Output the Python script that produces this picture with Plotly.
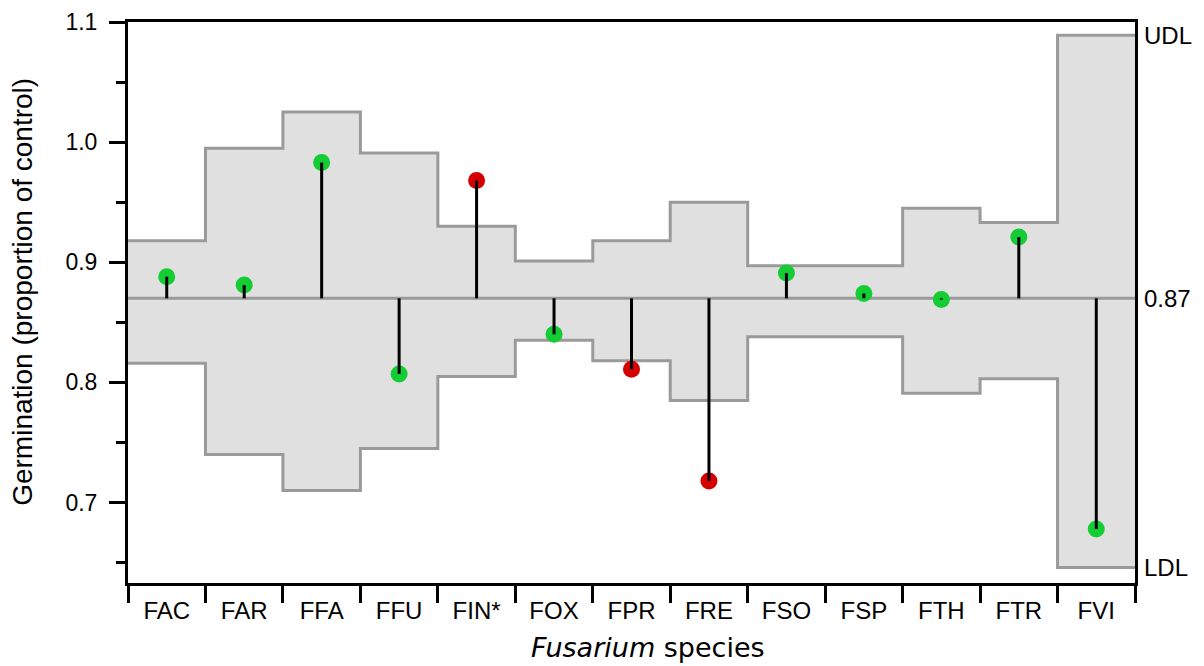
import plotly.graph_objects as go

species = ["FAC", "FAR", "FFA", "FFU", "FIN*", "FOX", "FPR", "FRE", "FSO", "FSP", "FTH", "FTR", "FVI"]
germination = [0.888, 0.881, 0.983, 0.807, 0.968, 0.840, 0.811, 0.718, 0.891, 0.874, 0.869, 0.921, 0.678]
significant = [False, False, False, False, True, False, True, True, False, False, False, False, False]
upper_limit = [0.918, 0.995, 1.025, 0.991, 0.930, 0.901, 0.918, 0.950, 0.897, 0.897, 0.945, 0.933, 1.089]
lower_limit = [0.816, 0.740, 0.710, 0.745, 0.805, 0.835, 0.818, 0.785, 0.838, 0.838, 0.791, 0.803, 0.646]
control_mean = 0.87

n = len(species)
boundaries = list(range(n + 1))
centers = [i + 0.5 for i in range(n)]

def step(vals):
    xs, ys = [], []
    for i, v in enumerate(vals):
        xs += [i, i + 1]
        ys += [v, v]
    return xs, ys

GREY = "#9a9a9a"
FILL = "#e0e0e0"
GREEN = "#14cc33"
RED = "#d40000"
FONT = "Liberation Sans, Arial, sans-serif"

fig = go.Figure()
lx, ly = step(lower_limit)
ux, uy = step(upper_limit)
fig.add_trace(go.Scatter(x=lx, y=ly, mode="lines", line=dict(color=GREY, width=3), showlegend=False, hoverinfo="skip"))
fig.add_trace(go.Scatter(x=ux, y=uy, mode="lines", line=dict(color=GREY, width=3), fill="tonexty", fillcolor=FILL, showlegend=False, hoverinfo="skip"))
fig.add_trace(go.Scatter(x=[0, n], y=[control_mean, control_mean], mode="lines", line=dict(color=GREY, width=3), showlegend=False, hoverinfo="skip"))

colors = [RED if s else GREEN for s in significant]
fig.add_trace(go.Scatter(x=centers, y=germination, mode="markers", marker=dict(size=17, color=colors, line=dict(width=0)), showlegend=False))

sx, sy = [], []
for c, v in zip(centers, germination):
    sx += [c, c, None]
    sy += [control_mean, v, None]
fig.add_trace(go.Scatter(x=sx, y=sy, mode="lines", line=dict(color="black", width=3), showlegend=False, hoverinfo="skip"))

fig.update_xaxes(
    range=[0, n], tickvals=centers, ticktext=species, ticks="", automargin=False,
    minor=dict(tickvals=boundaries, ticks="outside", ticklen=17, tickwidth=3, tickcolor="black"),
    showline=True, linewidth=3, linecolor="black", mirror=True, showgrid=False, zeroline=False,
    tickfont=dict(size=24, color="black", family=FONT), ticklabelstandoff=4,
)
fig.update_yaxes(
    range=[0.633, 1.1], tickvals=[0.7, 0.8, 0.9, 1.0, 1.1], ticktext=["0.7", "0.8", "0.9", "1.0", "1.1"],
    ticks="outside", ticklen=16, tickwidth=3, tickcolor="black", automargin=False,
    minor=dict(tickvals=[0.65, 0.75, 0.85, 0.95, 1.05], ticks="outside", ticklen=9, tickwidth=3, tickcolor="black"),
    showline=True, linewidth=3, linecolor="black", mirror=True, showgrid=False, zeroline=False,
    tickfont=dict(size=23, color="black", family=FONT), ticklabelstandoff=7,
)

# axis titles
fig.add_annotation(x=0, xref="paper", xshift=-105, xanchor="center", y=0.519, yref="paper", yanchor="middle",
                   text="Germination (proportion of control)", textangle=-90, showarrow=False,
                   font=dict(size=28, color="black", family=FONT))
fig.add_annotation(x=0.5, xref="paper", xshift=16, xanchor="center", y=0, yref="paper", yshift=-82, yanchor="bottom",
                   text="<i>Fusarium</i> species", showarrow=False,
                   font=dict(size=27, color="black", family="DejaVu Sans, Liberation Sans, sans-serif"))

right_labels = [("UDL", upper_limit[-1]), (f"{control_mean:.2f}", control_mean), ("LDL", lower_limit[-1])]
for txt, yv in right_labels:
    fig.add_annotation(x=1, xref="paper", y=yv, yref="y", text=txt, showarrow=False,
                       xanchor="left", yanchor="middle", xshift=7, font=dict(size=24, color="black", family=FONT))

fig.update_layout(
    width=1204, height=666, margin=dict(l=128, r=69, t=22, b=83),
    plot_bgcolor="white", paper_bgcolor="white",
    font=dict(family=FONT, color="black"),
)
fig.write_html("out.html")
